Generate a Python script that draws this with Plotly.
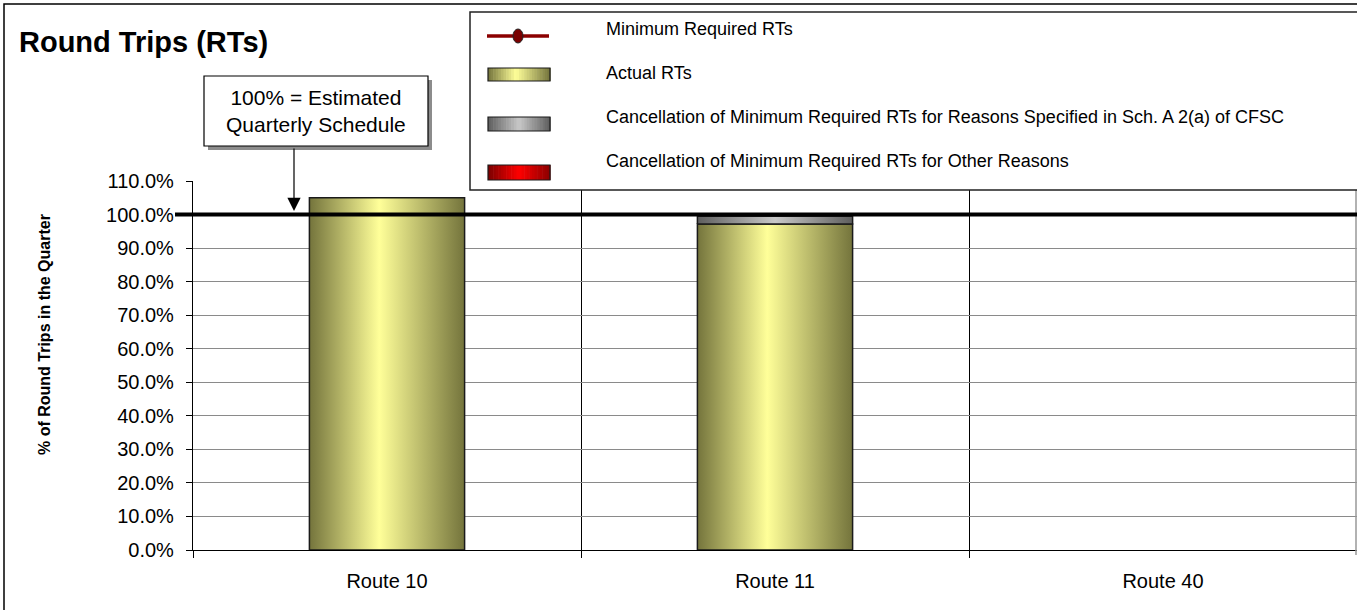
import plotly.graph_objects as go

# ---------------- data ----------------
ROUTES = ["Route 10", "Route 11", "Route 40"]
ACTUAL_RTS = [105.0, 97.2, None]
CANCEL_SPECIFIED = [0.0, 2.3, None]
CANCEL_OTHER = [0.0, 0.0, None]
MIN_REQUIRED = 100.0
Y_TICKS = [0, 10, 20, 30, 40, 50, 60, 70, 80, 90, 100, 110]
LEGEND_LABELS = [
    "Minimum Required RTs",
    "Actual RTs",
    "Cancellation of Minimum Required RTs for Reasons Specified in Sch. A 2(a) of CFSC",
    "Cancellation of Minimum Required RTs for Other Reasons",
]

# ---------------- styling ----------------
W, H = 1357, 610
PL, PR, PT, PB = 193, 1357, 181, 550
FONT = "Arial, Liberation Sans, sans-serif"
BAR_W = 0.4
SCALES = {
    "actual": [[0, "#74743c"], [0.45, "#ffff99"], [1, "#74743c"]],
    "spec": [[0, "#5e5e5e"], [0.5, "#c8c8c8"], [1, "#5e5e5e"]],
    "other": [[0, "#7a0000"], [0.5, "#ff0000"], [1, "#8a0000"]],
}


def px(x):
    return (x - PL) / (PR - PL)


def py(y):
    return (PB - y) / (PB - PT)


fig = go.Figure()

# stacked bars with horizontal gradient fills
series = [("Actual RTs", ACTUAL_RTS, "actual"),
          ("Cancellation (Sch. A 2(a))", CANCEL_SPECIFIED, "spec"),
          ("Cancellation (Other)", CANCEL_OTHER, "other")]
base = [0.0] * len(ROUTES)
for name, vals, key in series:
    for i, v in enumerate(vals):
        if v is None or v == 0:
            continue
        x0, x1 = i - BAR_W / 2, i + BAR_W / 2
        y0, y1 = base[i], base[i] + v
        fig.add_trace(go.Scatter(
            x=[x0, x1, x1, x0, x0], y=[y0, y0, y1, y1, y0],
            mode="lines", fill="toself",
            fillgradient=dict(type="horizontal", colorscale=SCALES[key],
                              start=x0, stop=x1),
            line=dict(color="#1a1a1a", width=1.5),
            name=name, showlegend=False,
            hovertemplate=f"{ROUTES[i]}<br>{name}: {v:.1f}%<extra></extra>",
        ))
        base[i] += v

shapes = []
annotations = []

# outer chart frame
shapes.append(dict(type="rect", xref="paper", yref="paper",
                   x0=px(4), x1=px(1420), y0=py(700), y1=py(4),
                   line=dict(color="black", width=1.5), layer="below"))
# right border of plot area
shapes.append(dict(type="line", xref="paper", yref="paper",
                   x0=px(1356), x1=px(1356), y0=py(PB + 5), y1=1,
                   line=dict(color="#999999", width=1.5)))

# minimum required line (100%)
shapes.append(dict(type="line", xref="paper", yref="y",
                   x0=px(175), x1=1.0, y0=MIN_REQUIRED, y1=MIN_REQUIRED,
                   line=dict(color="black", width=4), layer="above"))

# legend box
LX0, LY0, LY1 = 470, 12, 190
shapes.append(dict(type="rect", xref="paper", yref="paper",
                   x0=px(LX0), x1=px(1420), y0=py(LY1), y1=py(LY0),
                   fillcolor="white", line=dict(color="#222222", width=1.5),
                   layer="above"))


def interp(scale, t):
    for (a, ca), (b, cb) in zip(scale[:-1], scale[1:]):
        if a <= t <= b:
            f = (t - a) / (b - a) if b > a else 0
            c1 = [int(ca[k:k + 2], 16) for k in (1, 3, 5)]
            c2 = [int(cb[k:k + 2], 16) for k in (1, 3, 5)]
            c = [round(c1[j] + (c2[j] - c1[j]) * f) for j in range(3)]
            return "#%02x%02x%02x" % tuple(c)
    return scale[-1][1]


def swatch(x0, x1, y0, y1, scale, n=24):
    step = (x1 - x0) / n
    for k in range(n):
        t = (k + 0.5) / n
        shapes.append(dict(type="rect", xref="paper", yref="paper",
                           x0=px(x0 + k * step), x1=px(x0 + (k + 1) * step + 0.6),
                           y0=py(y1), y1=py(y0), fillcolor=interp(scale, t),
                           line=dict(width=0), layer="above"))
    shapes.append(dict(type="rect", xref="paper", yref="paper",
                       x0=px(x0), x1=px(x1), y0=py(y1), y1=py(y0),
                       line=dict(color="#1a1a1a", width=1.2), layer="above"))


# legend symbol: line with oval marker
shapes.append(dict(type="line", xref="paper", yref="paper",
                   x0=px(487), x1=px(549), y0=py(36), y1=py(36),
                   line=dict(color="#8b0000", width=3.5), layer="above"))
shapes.append(dict(type="circle", xref="paper", yref="paper",
                   x0=px(513), x1=px(523), y0=py(43), y1=py(29),
                   fillcolor="#7a0000", line=dict(color="#222222", width=1),
                   layer="above"))
swatch(488, 550, 68, 81, SCALES["actual"])
swatch(488, 550, 117, 131, SCALES["spec"])
swatch(488, 550, 165, 180, SCALES["other"])

legend_text_y = [29, 73, 117, 161]
for lab, ly in zip(LEGEND_LABELS, legend_text_y):
    annotations.append(dict(text=lab, xref="paper", yref="paper",
                            x=px(604), y=py(ly), xanchor="left", yanchor="middle",
                            showarrow=False, font=dict(family=FONT, size=18, color="black")))

# callout box with shadow
shapes.append(dict(type="rect", xref="paper", yref="paper",
                   x0=px(208), x1=px(432), y0=py(150), y1=py(80),
                   fillcolor="#8c8c8c", line=dict(width=0), layer="above"))
shapes.append(dict(type="rect", xref="paper", yref="paper",
                   x0=px(204), x1=px(428), y0=py(146), y1=py(76),
                   fillcolor="white", line=dict(color="black", width=1.2), layer="above"))
annotations.append(dict(text="100% = Estimated<br>Quarterly Schedule",
                        xref="paper", yref="paper", x=px(316), y=py(111),
                        xanchor="center", yanchor="middle", showarrow=False,
                        font=dict(family=FONT, size=21, color="black")))
annotations.append(dict(text="", xref="paper", yref="paper",
                        x=px(294), y=py(211), ax=0, ay=-64,
                        showarrow=True, arrowhead=2, arrowsize=2.2, arrowwidth=1.2,
                        arrowcolor="black", standoff=0))

# title
annotations.append(dict(text="<b>Round Trips (RTs)</b>", xref="paper", yref="paper",
                        x=px(17), y=py(42), xanchor="left", yanchor="middle",
                        showarrow=False, font=dict(family=FONT, size=29, color="black")))
# y-axis title
annotations.append(dict(text="<b>% of Round Trips in the Quarter</b>", xref="paper",
                        yref="paper", x=px(44), y=py(335), xanchor="center",
                        yanchor="middle", textangle=-90, showarrow=False,
                        font=dict(family=FONT, size=16, color="black")))

fig.update_layout(
    width=W, height=H,
    margin=dict(l=PL, r=W - PR, t=PT, b=H - PB, pad=0),
    paper_bgcolor="white", plot_bgcolor="white",
    showlegend=False,
    shapes=shapes, annotations=annotations,
    font=dict(family=FONT, color="black"),
    xaxis=dict(
        range=[-0.5, 2.5], tickmode="array", tickvals=[0, 1, 2], ticktext=ROUTES,
        ticks="", showgrid=False, zeroline=False,
        showline=True, linecolor="black", linewidth=1.2,
        tickfont=dict(family=FONT, size=20, color="black"),
        ticklabelstandoff=13,
        minor=dict(tickmode="array", tickvals=[-0.5, 0.5, 1.5, 2.5],
                   ticks="outside", ticklen=7, tickcolor="black",
                   showgrid=True, gridcolor="black", gridwidth=1),
    ),
    yaxis=dict(
        range=[0, 110], tickmode="array", tickvals=Y_TICKS,
        ticktext=[f"{v:.1f}%" for v in Y_TICKS],
        ticks="outside", ticklen=6, tickcolor="black",
        showgrid=True, gridcolor="#8a8a8a", gridwidth=1,
        zeroline=False, showline=True, linecolor="black", linewidth=1.2,
        tickfont=dict(family=FONT, size=20, color="black"),
        ticklabelstandoff=8,
    ),
)

fig.write_html("out.html", config={"displayModeBar": False},
               post_script="document.body.style.margin='0px';")
